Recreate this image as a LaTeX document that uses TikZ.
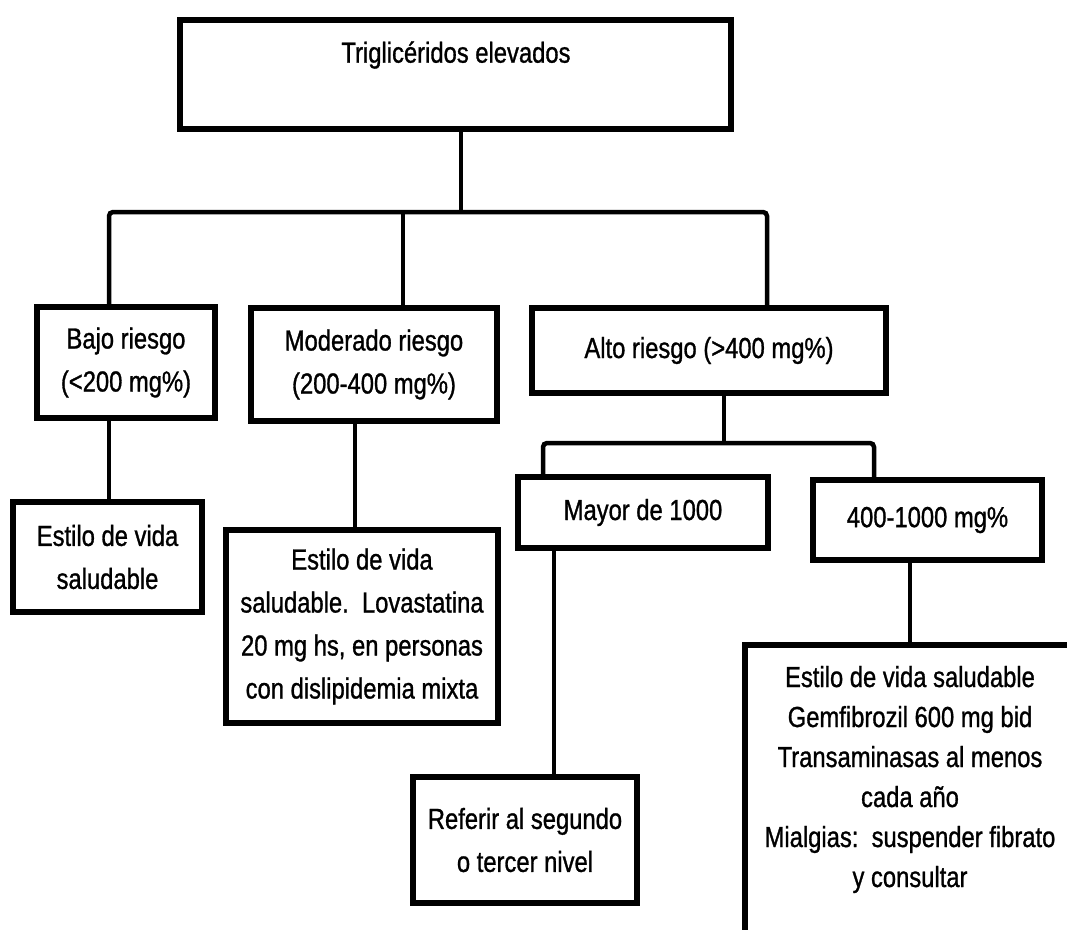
\documentclass[tikz,border=0pt]{standalone}
\usepackage{fontspec}
\setmainfont[FakeStretch=0.82,FakeBold=1]{Liberation Sans}
\begin{document}
\begin{tikzpicture}[x=1pt,y=-1pt,
  every node/.style={font=\fontsize{29}{43}\selectfont},
  box/.style={draw=black, line width=5.5pt, fill=white, inner sep=0pt, align=center},
  conn/.style={draw=black, line width=4.5pt},
  txt/.style={align=center, inner sep=0pt}]
\useasboundingbox[fill=white] (0,0) rectangle (1067,929);

% connector junction points
\coordinate (b0) at (461,212);
\coordinate (b1) at (109,212);
\coordinate (b2) at (403,212);
\coordinate (b3) at (767,212);
\coordinate (m1) at (355,0);
\coordinate (a0) at (724,443);
\coordinate (a1) at (543,443);
\coordinate (a2) at (874,443);
\coordinate (y1) at (554,0);
\coordinate (f1) at (910,0);

% boxes
\node[box, minimum width=551pt, minimum height=109pt] (top) at (455.5,74.5) {};
\node[txt] (toptxt) at (456,55) {Triglicéridos elevados};

\node[box, minimum width=178pt, minimum height=111pt] (bajo) at (126,362.5) {Bajo riesgo\\(<200 mg\%)};
\node[box, minimum width=246pt, minimum height=113pt] (mod) at (374,364.5) {Moderado riesgo\\(200-400 mg\%)};
\node[box, minimum width=354pt, minimum height=85pt] (alto) at (709,350.5) {Alto riesgo (>400 mg\%)};

\node[box, minimum width=189pt, minimum height=110pt] (bajoT) at (107.5,557) {Estilo de vida\\saludable};
\node[box, minimum width=272pt, minimum height=193pt] (modT) at (362,626.5) {Estilo de vida\\saludable.\ \ Lovastatina\\20 mg hs, en personas\\con dislipidemia mixta};

\node[box, minimum width=250pt, minimum height=71pt] (mayor) at (643,512.5) {Mayor de 1000};
\node[box, minimum width=229pt, minimum height=80pt] (medio) at (927.5,520) {400-1000 mg\%};

\node[box, minimum width=224pt, minimum height=126pt] (referir) at (525,840) {Referir al segundo\\o tercer nivel};

\node[box, anchor=north, minimum width=330pt, minimum height=300pt] (fib) at (910,642) {};
\node[txt, font=\fontsize{29}{40}\selectfont] (fibtxt) at (910,779.5) {Estilo de vida saludable\\Gemfibrozil 600 mg bid\\Transaminasas al menos\\cada año\\Mialgias:\ \ suspender fibrato\\y consultar};

% connectors
\draw[conn] (top.south -| b0) -- (b0);
\draw[conn, rounded corners=4pt] (b1 |- bajo.north) -- (b1) -- (b3) -- (b3 |- alto.north);
\draw[conn] (b2) -- (b2 |- mod.north);
\draw[conn] (b1 |- bajo.south) -- (b1 |- bajoT.north);
\draw[conn] (m1 |- mod.south) -- (m1 |- modT.north);
\draw[conn] (a0 |- alto.south) -- (a0);
\draw[conn, rounded corners=4pt] (a1 |- mayor.north) -- (a1) -- (a2) -- (a2 |- medio.north);
\draw[conn] (y1 |- mayor.south) -- (y1 |- referir.north);
\draw[conn] (f1 |- medio.south) -- (f1 |- fib.north);
\end{tikzpicture}
\end{document}
